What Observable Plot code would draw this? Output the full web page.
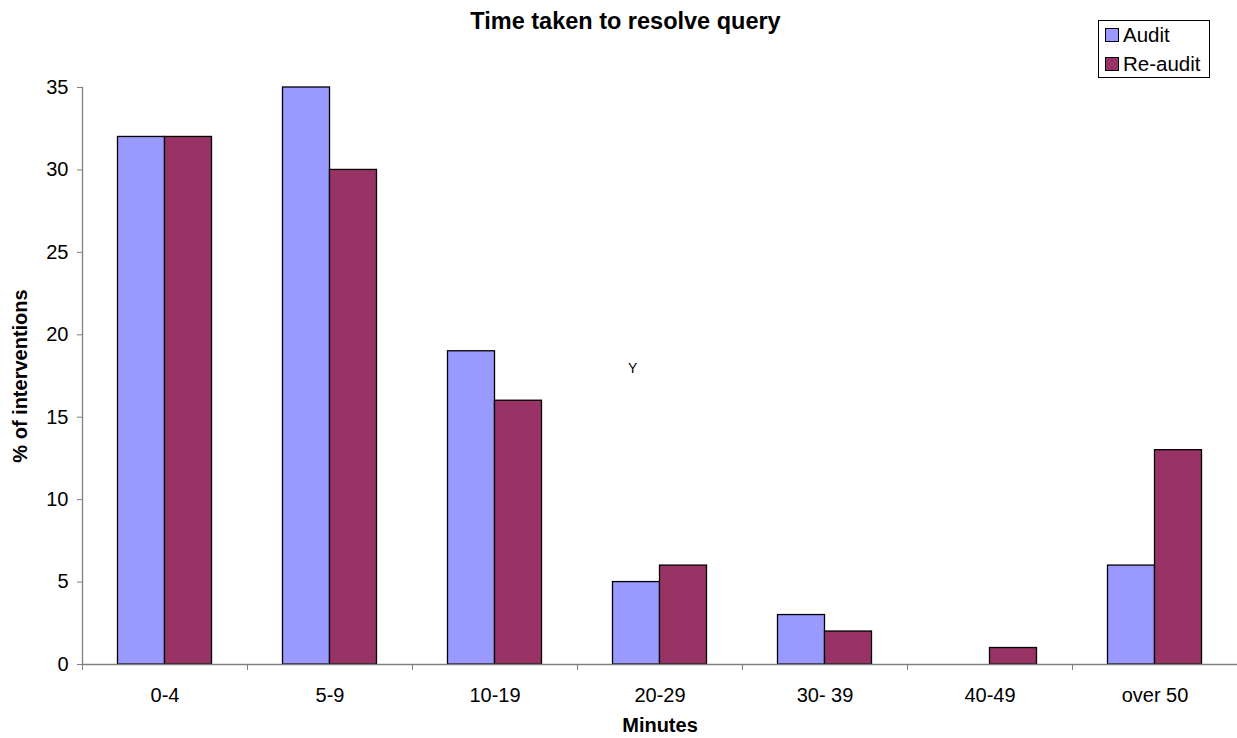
<!DOCTYPE html>
<html>
<head>
<meta charset="utf-8">
<script src="https://cdn.jsdelivr.net/npm/d3@7"></script>
<script src="https://cdn.jsdelivr.net/npm/@observablehq/plot@0.6"></script>
<style>
  html, body { margin: 0; padding: 0; background: #fff; }
  #wrap { position: relative; width: 1237px; height: 738px; font-family: "Liberation Sans", Arial, sans-serif; overflow: hidden; }
  #title { position: absolute; left: 0; width: 1251px; top: 7px; text-align: center; font-size: 23.5px; font-weight: bold; line-height: 28px; }
  #legend { position: absolute; left: 1098px; top: 20px; width: 110px; height: 56px; border: 1px solid #000; background: #fff; font-size: 20.5px; }
  .item { position: absolute; left: 6px; display: flex; align-items: center; line-height: 24px; }
  .sw { width: 12px; height: 12px; border: 1px solid #000; margin-right: 4px; }
  #stray { position: absolute; left: 628px; top: 361px; font-size: 14px; line-height: 15px; }
</style>
</head>
<body>
<div id="wrap">
  <div id="title">Time taken to resolve query</div>
  <div id="chart"></div>
  <div id="legend"></div>
  <div id="stray">Y</div>
</div>
<script>
const categories = ["0-4", "5-9", "10-19", "20-29", "30- 39", "40-49", "over 50"];
const series = ["Audit", "Re-audit"];
const audit = [32, 35, 19, 5, 3, 0, 6];
const reaudit = [32, 30, 16, 6, 2, 1, 13];
const colors = ["#9999FF", "#993366"];
const yTicks = [0, 5, 10, 15, 20, 25, 30, 35];

const data = [];
categories.forEach((c, i) => {
  data.push({cat: c, series: series[0], value: audit[i]});
  data.push({cat: c, series: series[1], value: reaudit[i]});
});

const W = 1237, H = 738;
const mL = 82, mR = 0, mT = 87, mB = 74;
const band = (W - mL - mR) / categories.length;
const barW = 47;

const chart = Plot.plot({
  width: W,
  height: H,
  marginLeft: mL,
  marginRight: mR,
  marginTop: mT,
  marginBottom: mB,
  style: {fontFamily: "Liberation Sans, Arial, sans-serif", fontSize: "20px", color: "#000", background: "transparent"},
  x: {domain: categories, padding: 0, label: null, axis: null},
  y: {domain: [0, 35], label: null, axis: null},
  color: {domain: series, range: colors},
  marks: [
    Plot.barY(data.filter(d => d.series === series[0]), {x: "cat", y: "value", fill: colors[0], stroke: "#000", strokeWidth: 1.3, insetLeft: band / 2 - barW, insetRight: band / 2}),
    Plot.barY(data.filter(d => d.series === series[1] && d.value > 0), {x: "cat", y: "value", fill: colors[1], stroke: "#000", strokeWidth: 1.3, insetLeft: band / 2, insetRight: band / 2 - barW}),
    Plot.ruleY([0], {stroke: "#808080", strokeWidth: 1.3}),
    Plot.frame({anchor: "left", stroke: "#808080", strokeWidth: 1.3}),
    Plot.axisY({ticks: yTicks, tickSize: 5, tickPadding: 9, stroke: "#808080", tickFormat: d => String(d), fill: "#000", fontSize: 20}),
    Plot.axisX({tickSize: 6, text: null, dx: -band / 2, stroke: "#808080"}),
    Plot.axisX({tickSize: 0, tickPadding: 23, fontSize: 20, fill: "#000"}),
    Plot.text(["% of interventions"], {frameAnchor: "left", textAnchor: "middle", lineAnchor: "middle", dx: -62, dy: 0, rotate: -90, fontWeight: "bold", fontSize: 20, fill: "#000"}),
    Plot.text(["Minutes"], {frameAnchor: "bottom", lineAnchor: "middle", dy: 61, fontWeight: "bold", fontSize: 20, fill: "#000"})
  ]
});
document.getElementById("chart").appendChild(chart);

const legend = document.getElementById("legend");
series.forEach((s, i) => {
  const it = document.createElement("div");
  it.className = "item";
  it.style.top = (i === 0 ? 2 : 31) + "px";
  const sw = document.createElement("div");
  sw.className = "sw";
  sw.style.background = colors[i];
  const t = document.createElement("span");
  t.textContent = s;
  it.appendChild(sw);
  it.appendChild(t);
  legend.appendChild(it);
});
</script>
</body>
</html>
